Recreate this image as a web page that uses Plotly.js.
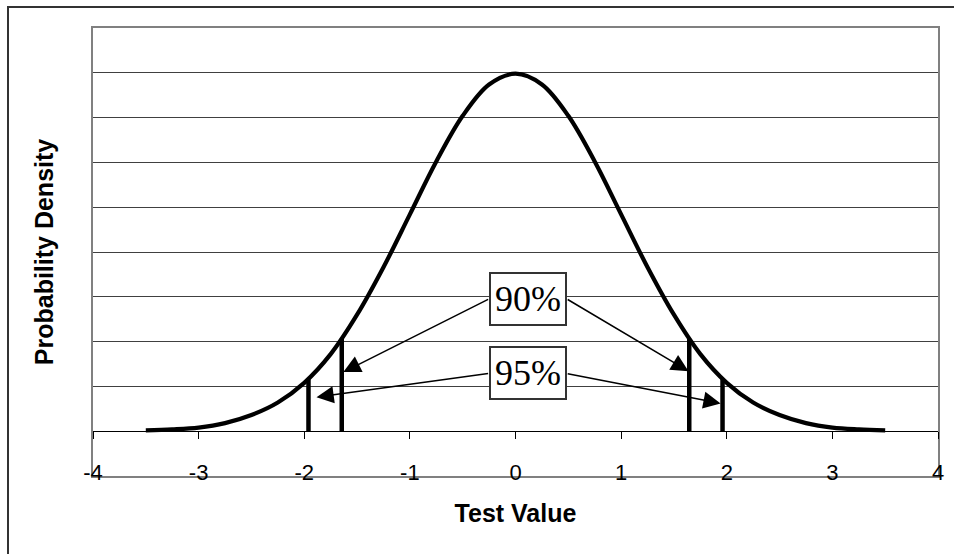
<!DOCTYPE html>
<html>
<head>
<meta charset="utf-8">
<script src="https://cdn.plot.ly/plotly-3.0.1.min.js"></script>
<style>
  html, body { margin: 0; padding: 0; background: #ffffff; }
  #chart { width: 954px; height: 554px; }
</style>
</head>
<body>
<div id="chart"></div>
<script>
// Curve values (test value vs probability density)
var curveX = [-3.5,-3.25,-3,-2.75,-2.5,-2.25,-2,-1.75,-1.5,-1.25,-1,-0.75,-0.5,-0.25,0,0.25,0.5,0.75,1,1.25,1.5,1.75,2,2.25,2.5,2.75,3,3.25,3.5];
var curveY = [0.001,0.002,0.004,0.009,0.018,0.032,0.054,0.086,0.130,0.183,0.242,0.301,0.352,0.387,0.399,0.387,0.352,0.301,0.242,0.183,0.130,0.086,0.054,0.032,0.018,0.009,0.004,0.002,0.001];

// Critical value markers (vertical bars from the axis up to the curve)
var criticalX = [-1.96, -1.645, 1.645, 1.96];
var criticalY = [0.058, 0.103, 0.103, 0.058];

// Tick labels on the x axis
var xTicks = [-4,-3,-2,-1,0,1,2,3,4];
var xTickText = ['-4','-3','-2','-1','0','1','2','3','4'];

// Labels and where their arrows point
var boxLabels = ['90%', '95%'];
var boxX = [0.118, 0.118];
var boxY = [0.148, 0.0645];
var arrowTailX = [[-0.245, 0.48], [-0.245, 0.48]];
var arrowTailY = [[0.148, 0.148], [0.0645, 0.0645]];
var arrowTipX = [[-1.63, 1.638], [-1.884, 1.942]];
var arrowTipY = [[0.066, 0.067], [0.038, 0.031]];

var traces = [];
traces.push({
  x: curveX, y: curveY, type: 'scatter', mode: 'lines',
  line: {color: '#000000', width: 4.2, shape: 'spline', smoothing: 1},
  hoverinfo: 'skip', showlegend: false
});
criticalX.forEach(function (cx, i) {
  traces.push({
    x: [cx, cx], y: [0, criticalY[i]], type: 'scatter', mode: 'lines',
    line: {color: '#000000', width: 4.5},
    hoverinfo: 'skip', showlegend: false
  });
});
// invisible trace to activate the frame axis
traces.push({x: [-4, 4], y: [-0.05, -0.05], xaxis: 'x2', yaxis: 'y', mode: 'lines',
  line: {width: 0}, hoverinfo: 'skip', showlegend: false});

var annotations = [];
boxLabels.forEach(function (t, i) {
  for (var k = 0; k < 2; k++) {
    annotations.push({
      x: arrowTipX[i][k], y: arrowTipY[i][k], xref: 'x', yref: 'y',
      ax: arrowTailX[i][k], ay: arrowTailY[i][k], axref: 'x', ayref: 'y',
      text: '', showarrow: true, arrowhead: 2, arrowsize: 2.3, arrowwidth: 1.5,
      arrowcolor: '#000000', standoff: 0
    });
  }
});
boxLabels.forEach(function (t, i) {
  annotations.push({
    x: boxX[i], y: boxY[i], xref: 'x', yref: 'y', text: t, showarrow: false,
    font: {family: '"Liberation Serif", "Times New Roman", serif', size: 36, color: '#000000'},
    bgcolor: '#ffffff', bordercolor: '#333333', borderwidth: 2, borderpad: 2,
    width: 70, height: 46, xanchor: 'center', yanchor: 'middle'
  });
});

var layout = {
  width: 954, height: 554,
  margin: {l: 93, r: 16, t: 28, b: 78},
  paper_bgcolor: '#ffffff', plot_bgcolor: '#ffffff',
  showlegend: false,
  xaxis: {
    range: [-4, 4], anchor: 'free', position: 0.1,
    tickvals: xTicks, ticktext: xTickText,
    showline: true, linecolor: '#000000', linewidth: 1,
    ticks: 'outside', ticklen: 7, tickwidth: 1, tickcolor: '#000000',
    showgrid: false, zeroline: false, ticklabelstandoff: 14,
    tickfont: {family: '"Liberation Sans", Arial, sans-serif', size: 22, color: '#000000'},
    title: {text: 'Test Value', standoff: 20,
      font: {family: '"Liberation Sans", Arial, sans-serif', size: 25, color: '#000000', weight: 'bold'}}
  },
  xaxis2: {
    range: [-4, 4], overlaying: 'x', anchor: 'y', side: 'bottom',
    showline: true, linecolor: '#808080', linewidth: 2, mirror: true,
    showticklabels: false, ticks: '', showgrid: false, zeroline: false
  },
  yaxis: {
    range: [-0.05, 0.45], dtick: 0.05, tick0: 0,
    showticklabels: false, ticks: '',
    showgrid: true, gridcolor: '#404040', gridwidth: 1,
    zeroline: false,
    showline: true, linecolor: '#808080', linewidth: 2, mirror: true,
    title: {text: 'Probability Density', standoff: 30,
      font: {family: '"Liberation Sans", Arial, sans-serif', size: 25, color: '#000000', weight: 'bold'}}
  },
  annotations: annotations,
  shapes: [{
    type: 'rect', xref: 'paper', yref: 'paper', layer: 'below',
    x0: -93/845 + 8/845, x1: 1.1, y0: -0.3, y1: 1 + 21/448,
    line: {color: '#333333', width: 2}, fillcolor: 'rgba(0,0,0,0)'
  }]
};

Plotly.newPlot('chart', traces, layout, {staticPlot: true, displayModeBar: false});
</script>
</body>
</html>
